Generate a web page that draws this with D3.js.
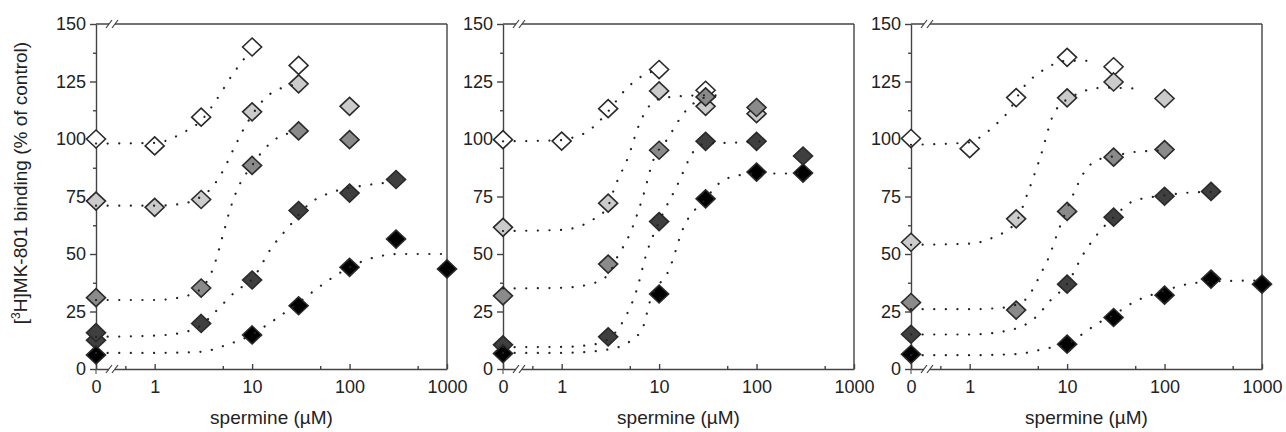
<!DOCTYPE html>
<html>
<head>
<meta charset="utf-8">
<script src="https://cdn.jsdelivr.net/npm/d3@7"></script>
<style>
  body { margin: 0; background: #fff; }
  text { font-family: "Liberation Sans", Arial, sans-serif; fill: #222; }
</style>
</head>
<body>
<div id="plot"></div>
<script>
// tick values / labels
var yTicks = [0, 25, 50, 75, 100, 125, 150];
var yMinor = [12.5, 37.5, 62.5, 87.5, 112.5, 137.5];
var xTicks = [0, 1, 10, 100, 1000];
var xTickLabels = ["0", "1", "10", "100", "1000"];
var xMinor = [0.5, 5, 50, 500];

// series fill colours (open, light, mid, dark, black)
var fills = ["#ffffff", "#cbcbcb", "#8a8a8a", "#3f3f3f", "#000000"];

// ---- panel A: measured points [conc (uM), % of control]
var a_open  = [[0,100],[1,97],[3,109.5],[10,140],[30,132]];
var a_light = [[0,73],[1,70.3],[3,73.7],[10,111.8],[30,124],[100,114.2]];
var a_mid   = [[0,31],[3,35.2],[10,88.5],[30,103.5],[100,99.7]];
var a_dark  = [[0,12.5],[0,15.8],[3,19.8],[10,38.7],[30,68.9],[100,76.5],[300,82.4]];
var a_black = [[0,6.1],[10,14.8],[30,27.5],[100,44.2],[300,56.5],[1000,43.5]];
// panel A: fitted curves
var a_open_fit  = [[0,98],[1,98.3],[2,103],[3,108],[4.3,117],[6.4,128.5],[9.5,138]];
var a_light_fit = [[0,71],[1,71],[2,72],[3,75],[3.7,78],[5.15,87],[6.6,96.5],[8.55,105.7],[13.8,118],[20.8,122.4],[27,123.5]];
var a_mid_fit   = [[0,30],[1,30],[2,31.5],[3,35],[4,44],[5,58],[6,70],[7.4,80],[9.8,88],[13,95],[19,101],[24,102.5]];
var a_dark_fit  = [[0,14],[1,14.5],[2,16],[3,19],[4,24],[6.9,34],[10,39],[16,53],[24,62],[39,72],[68,77],[128,79.5],[240,81]];
var a_black_fit = [[0,7],[1,7],[3,7.5],[5.5,10.5],[10,15],[14,19],[22.5,25],[50,36],[68,40],[150,47.5],[330,50],[1000,50]];

// ---- panel B
var b_open  = [[0,99.7],[1,99.1],[3,113.2],[10,130.2],[30,121.2]];
var b_light = [[0,61.6],[3,72.1],[10,120.9],[30,114.2],[100,111]];
var b_mid   = [[0,31.8],[3,45.6],[10,95.1],[30,118.3],[100,113.7]];
var b_dark  = [[0,10.5],[3,14],[10,64.1],[30,99],[100,99],[300,92.6]];
var b_black = [[0,6.7],[10,32.6],[30,74],[100,85.6],[300,85.2]];
var b_open_fit  = [[0,99],[1,99.5],[1.3,100.6],[1.8,103],[3,112],[4.3,120.5],[6.3,126.7],[9.5,130]];
var b_light_fit = [[0,60],[1,60.5],[2.1,65],[3,71],[3.5,79],[4.8,92],[6.3,106.7],[9.4,117],[15,118.5],[30,119],[45,119]];
var b_mid_fit   = [[0,35],[1,35.3],[2,37],[3,41],[3.65,48],[5,58.7],[6.8,74.7],[8.7,90.7],[11.9,99.4],[19,112.5],[30,118],[45,118.5]];
var b_dark_fit  = [[0,9.5],[1,9.6],[2,10.5],[3,13],[4.3,21],[5.85,34],[7.4,50],[10,64],[15,79],[24,96],[30,98],[67,98.5],[117,99]];
var b_black_fit = [[0,7],[1,7],[3,8.5],[5,12],[6.8,18],[8,29],[12.9,44],[17.6,61],[30,74],[42,81],[62,84],[100,85],[300,85]];

// ---- panel C
var c_open  = [[0,100.2],[1,95.8],[3,118],[10,135.5],[30,131.4]];
var c_light = [[0,55.1],[3,65.3],[10,117.9],[30,124.8],[100,117.6]];
var c_mid   = [[0,28.9],[3,25.6],[10,68.5],[30,92.1],[100,95.4]];
var c_dark  = [[0,15.1],[10,36.9],[30,66],[100,75.1],[300,77.2]];
var c_black = [[0,6.4],[10,10.8],[30,22.4],[100,32.1],[300,39.1],[1000,36.9]];
var c_open_fit  = [[0,97.5],[1,98.5],[1.3,101],[1.9,106.7],[2.4,111],[3.6,122.7],[5.7,130],[10,134],[17,134],[20,133.5]];
var c_light_fit = [[0,54],[1,54.5],[1.76,57.3],[3,64],[3.9,76],[5.3,92],[7.3,111],[10.8,118],[23.6,122.3],[48,122]];
var c_mid_fit   = [[0,26],[1,26],[2,26.5],[3,28],[3.9,31],[5.3,41],[6.7,50],[7.9,58.7],[9.2,66],[11.6,76],[14.7,85],[20,90.7],[30,92.5],[48,94.3],[100,95]];
var c_dark_fit  = [[0,15],[1,15],[2.4,16.6],[4.9,23],[6.7,29.7],[10,37],[14.7,50],[21.8,60],[30,66],[48,73],[100,75.5],[156,76.5],[300,77]];
var c_black_fit = [[0,6],[1,6],[3,6.5],[6.2,9],[10,11],[14.7,15.5],[20,19.5],[30,23.5],[48,29],[100,34],[156,36.5],[300,38],[1000,38.5]];

var panels = [
  {left: 96,  points: [a_open, a_light, a_mid, a_dark, a_black], fits: [a_open_fit, a_light_fit, a_mid_fit, a_dark_fit, a_black_fit]},
  {left: 503, points: [b_open, b_light, b_mid, b_dark, b_black], fits: [b_open_fit, b_light_fit, b_mid_fit, b_dark_fit, b_black_fit]},
  {left: 911, points: [c_open, c_light, c_mid, c_dark, c_black], fits: [c_open_fit, c_light_fit, c_mid_fit, c_dark_fit, c_black_fit]}
];

var W = 1286, H = 432;
var plotTop = 24, plotBottom = 369, pw = 351;
var axisColor = "#444";

var svg = d3.select("div#plot")
  .append("svg")
    .attr("width", W)
    .attr("height", H);

var yScale = d3.scaleLinear().domain([0, 150]).range([plotBottom, plotTop]);

// y axis title
var yt = svg.append("text")
  .attr("transform", "translate(27," + 183 + ") rotate(-90)")
  .attr("text-anchor", "middle")
  .style("font-size", "19px");
yt.append("tspan").text("[");
yt.append("tspan").text("3").attr("dy", "-7").style("font-size", "12px");
yt.append("tspan").text("H]MK-801 binding (% of control)").attr("dy", "7");

// diamond marker path
function diamond(cx, cy) {
  var hw = 9.5, hh = 9;
  return "M" + cx + "," + (cy - hh) + "L" + (cx + hw) + "," + cy + "L" + cx + "," + (cy + hh) + "L" + (cx - hw) + "," + cy + "Z";
}

panels.forEach(function(p) {
  var L = p.left, R = L + pw;
  // "0" sits at 0.25 on the log axis, behind the axis break
  var xScale = d3.scaleLog().domain([0.25, 1000]).range([L, R]);
  var xv = function(c) { return xScale(c === 0 ? 0.25 : c); };

  var g = svg.append("g");

  // frame: top and right
  g.append("line").attr("x1", L).attr("x2", R).attr("y1", plotTop).attr("y2", plotTop)
    .attr("stroke", axisColor).attr("stroke-width", 1.4);
  g.append("line").attr("x1", R).attr("x2", R).attr("y1", plotTop).attr("y2", plotBottom)
    .attr("stroke", axisColor).attr("stroke-width", 1.4);

  // y axis
  var yAxis = g.append("g")
    .attr("transform", "translate(" + L + ",0)")
    .call(d3.axisLeft(yScale).tickValues(yTicks).tickSize(6).tickSizeOuter(0).tickPadding(4));
  yAxis.selectAll("text").style("font-size", "18px").attr("fill", "#222");
  g.append("g")
    .attr("transform", "translate(" + L + ",0)")
    .call(d3.axisLeft(yScale).tickValues(yMinor).tickSize(3).tickSizeOuter(0).tickFormat(""))
    .select(".domain").remove();

  // x axis, ticks point inward
  var xAxis = g.append("g")
    .attr("transform", "translate(0," + plotBottom + ")")
    .call(d3.axisBottom(xScale)
      .tickValues(xTicks.map(function(c) { return c === 0 ? 0.25 : c; }))
      .tickFormat(function(d, i) { return xTickLabels[i]; })
      .tickSizeInner(-5).tickSizeOuter(0).tickPadding(11));
  xAxis.selectAll("text").style("font-size", "18px").attr("fill", "#222");
  g.append("g")
    .attr("transform", "translate(0," + plotBottom + ")")
    .call(d3.axisBottom(xScale).tickValues(xMinor).tickSizeInner(-3).tickSizeOuter(0).tickFormat(""))
    .select(".domain").remove();
  // small outward tick under 0
  g.append("line").attr("x1", L).attr("x2", L).attr("y1", plotBottom).attr("y2", plotBottom + 5)
    .attr("stroke", axisColor);

  g.selectAll(".domain, .tick line").attr("stroke", axisColor).attr("stroke-width", 1.4);

  // axis breaks on bottom axis and top frame
  [plotTop, plotBottom].forEach(function(yy) {
    var bx = L + 16;
    g.append("rect").attr("x", bx - 3).attr("y", yy - 2).attr("width", 6).attr("height", 4).attr("fill", "#fff");
    [-3, 3].forEach(function(o) {
      g.append("line")
        .attr("x1", bx + o - 3).attr("y1", yy + 4)
        .attr("x2", bx + o + 3).attr("y2", yy - 4)
        .attr("stroke", axisColor).attr("stroke-width", 1.2);
    });
  });

  // x axis title
  g.append("text")
    .attr("x", (L + R) / 2)
    .attr("y", 424)
    .attr("text-anchor", "middle")
    .style("font-size", "19px")
    .text("spermine (\u00b5M)");

  // markers
  p.points.forEach(function(pts, si) {
    g.selectAll(null)
      .data(pts)
      .enter()
      .append("path")
        .attr("d", function(d) { return diamond(xv(d[0]), yScale(d[1])); })
        .attr("fill", fills[si])
        .attr("stroke", "#2a2a2a")
        .attr("stroke-width", 1.6);
  });

  // dotted fit curves on top
  var line = d3.line()
    .x(function(d) { return xv(d[0]); })
    .y(function(d) { return yScale(d[1]); })
    .curve(d3.curveMonotoneX);
  p.fits.forEach(function(f) {
    g.append("path")
      .attr("d", line(f))
      .attr("fill", "none")
      .attr("stroke", "#222")
      .attr("stroke-width", 2.2)
      .attr("stroke-linecap", "round")
      .attr("stroke-dasharray", "0.1,11.5");
  });
});
</script>
</body>
</html>
